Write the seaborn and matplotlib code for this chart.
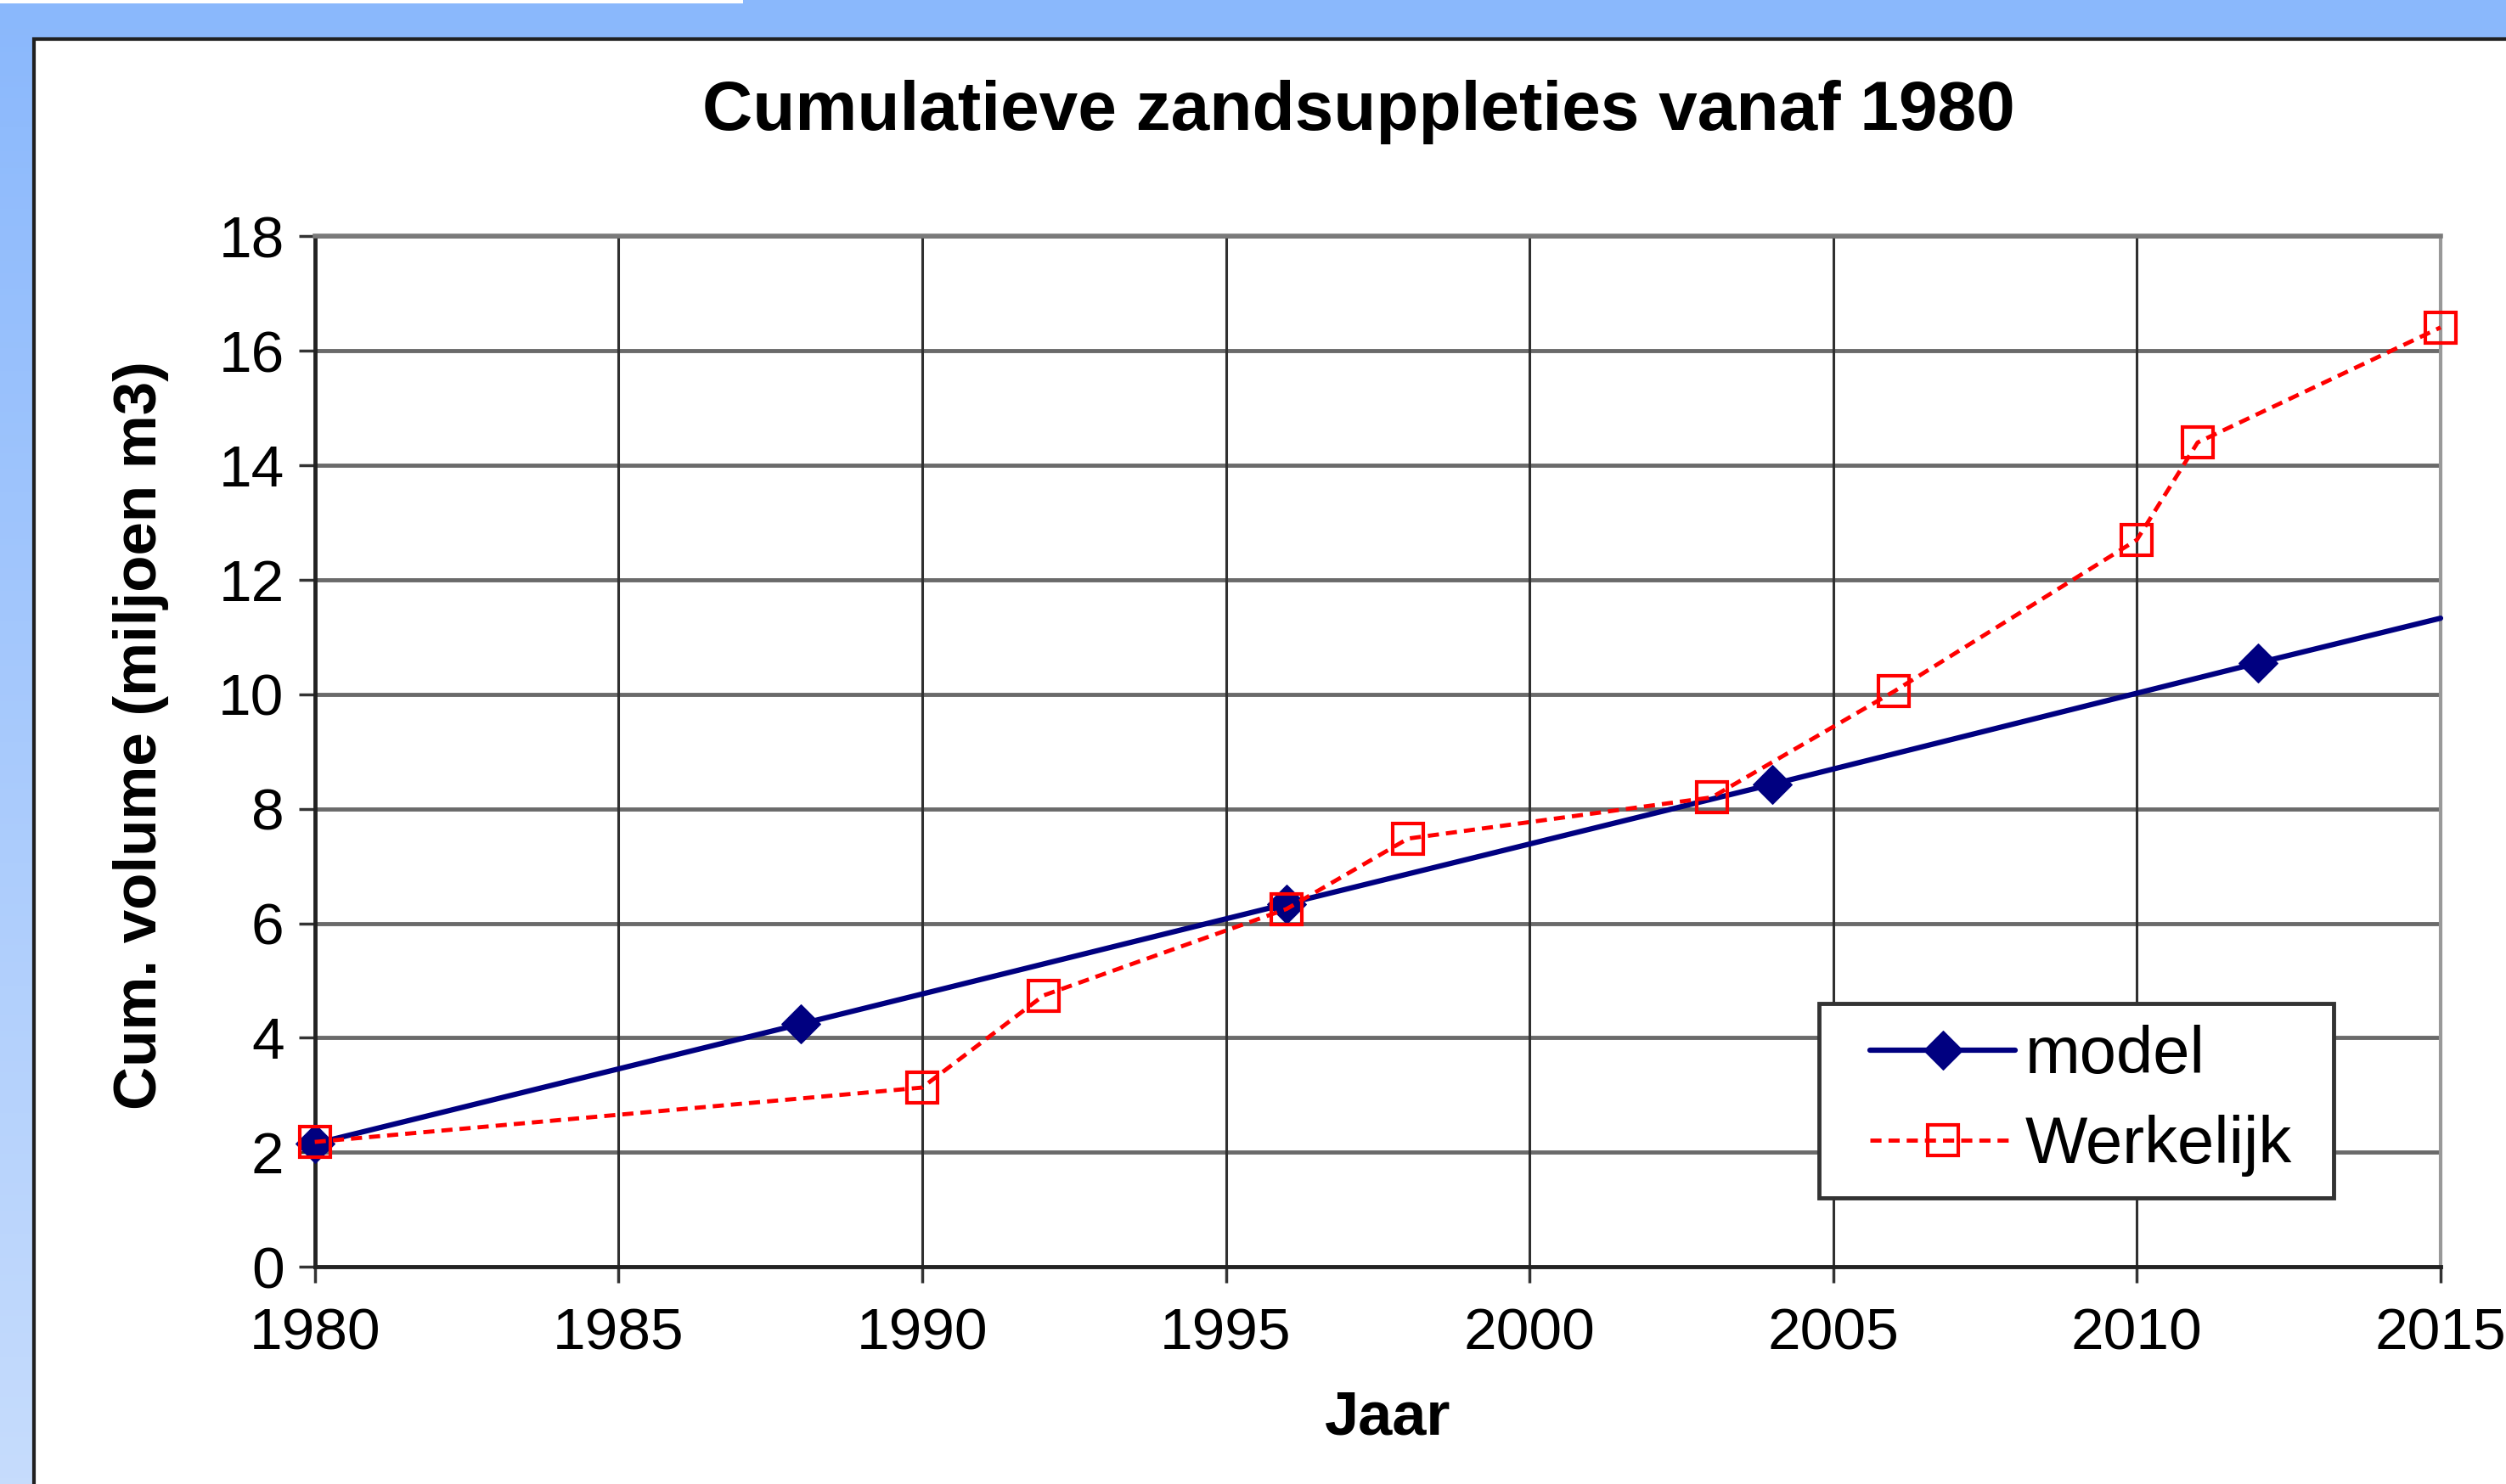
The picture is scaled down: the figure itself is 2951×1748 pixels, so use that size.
import matplotlib
matplotlib.use('Agg')
import matplotlib.pyplot as plt
import seaborn as sns
import numpy as np
import pandas as pd
from matplotlib.patches import Rectangle

# model series (last point has no marker)
model_years = [1980, 1988, 1996, 2004, 2012, 2015]
model_vals = [2.15, 4.24, 6.34, 8.43, 10.55, 11.33]

# actual nourishment volumes
werk_years = [1980, 1990, 1992, 1996, 1998, 2003, 2006, 2010, 2011, 2015]
werk_vals = [2.18, 3.13, 4.74, 6.25, 7.48, 8.2, 10.05, 12.7, 14.4, 16.41]

x_ticks = [1980, 1985, 1990, 1995, 2000, 2005, 2010, 2015]
y_ticks = [0, 2, 4, 6, 8, 10, 12, 14, 16, 18]

sns.set_style("white")
plt.rcParams['font.family'] = ['Liberation Sans', 'DejaVu Sans']
plt.rcParams['text.color'] = 'black'
plt.rcParams['xtick.color'] = 'black'
plt.rcParams['ytick.color'] = 'black'

fig = plt.figure(figsize=(29.51, 17.48), dpi=100)

# blue gradient background
bg = fig.add_axes([0, 0, 1, 1], zorder=-10)
grad = np.linspace(0, 1, 256).reshape(-1, 1)
top_c = np.array([138, 184, 252]) / 255
bot_c = np.array([198, 220, 252]) / 255
img = top_c[None, None, :] * (1 - grad[:, :, None]) + bot_c[None, None, :] * grad[:, :, None]
bg.imshow(img, aspect='auto', extent=[0, 1, 0, 1])
bg.set_xlim(0, 1)
bg.set_ylim(0, 1)
bg.axis('off')
# white panel
px, py = 40 / 2951, 1 - 46 / 1748
bg.add_patch(Rectangle((px, -0.01), 1.1, py + 0.01, facecolor='white',
                       edgecolor='#202020', linewidth=3))
bg.add_patch(Rectangle((0, 1 - 4 / 1748), 875 / 2951, 4 / 1748, facecolor='white',
                       edgecolor='none'))

ax = fig.add_axes([0.1256, 0.1464, 0.8483, 0.6943])
ax.set_facecolor('white')

df_model = pd.DataFrame({'Jaar': model_years, 'volume': model_vals})
df_werk = pd.DataFrame({'Jaar': werk_years, 'volume': werk_vals})

sns.lineplot(data=df_model, x='Jaar', y='volume', ax=ax, color='#000080',
             linewidth=4.5, marker='D', markersize=23, markevery=[0, 1, 2, 3, 4],
             markeredgecolor='#000080', label='model', zorder=4, clip_on=False)
sns.lineplot(data=df_werk, x='Jaar', y='volume', ax=ax, color='#ff0000',
             linewidth=3.5, linestyle=(0, (2.7, 1.7)), marker='s', markersize=26,
             markerfacecolor='none', markeredgecolor='#ff0000', markeredgewidth=3,
             label='Werkelijk', zorder=5, clip_on=False)

ax.set_xlim(1980, 2015)
ax.set_ylim(0, 18)
ax.set_xticks(x_ticks)
ax.set_yticks(y_ticks)
ax.set_xticklabels([str(t) for t in x_ticks], fontsize=50)
ax.set_yticklabels([str(t) for t in y_ticks], fontsize=50)
ax.tick_params(axis='both', direction='out', length=14, width=2.5, color='#333333',
               left=True, bottom=True)
ax.tick_params(axis='x', pad=20)
ax.tick_params(axis='y', pad=12)
ax.set_xlabel('')
ax.set_ylabel('')

for yv in y_ticks[1:]:
    ax.axhline(yv, color='#6a6a6a', linewidth=3.5, zorder=1)
for xv in x_ticks[1:-1]:
    ax.axvline(xv, color='#303030', linewidth=2.2, zorder=1)

for side in ['left', 'bottom']:
    ax.spines[side].set_color('#222222')
    ax.spines[side].set_linewidth(3.5)
ax.spines['top'].set_color('#7a7a7a')
ax.spines['top'].set_linewidth(4)
ax.spines['right'].set_color('#999999')
ax.spines['right'].set_linewidth(3)

# legend box drawn separately so the inner padding can match
box = Rectangle((0.7258, 0.1927), 0.9311 - 0.7258, 0.3240 - 0.1927,
                transform=fig.transFigure, facecolor='white', edgecolor='#333333',
                linewidth=3.5, zorder=6, clip_on=False)
ax.add_patch(box)
leg = ax.legend(loc='center left', bbox_to_anchor=(0.7462, 0.2583),
                bbox_transform=fig.transFigure, fontsize=56, frameon=False,
                handlelength=2.2, handletextpad=0.15, borderpad=0,
                labelspacing=0.42, borderaxespad=0)
leg.set_zorder(7)

fig.text(0.542, 0.9247, 'Cumulatieve zandsuppleties vanaf 1980', ha='center',
         va='center', fontsize=59, fontweight='bold')
fig.text(0.0561, 0.5048, 'Cum. volume (miljoen m3)', ha='center', va='center',
         rotation=90, fontsize=51, fontweight='bold')
fig.text(0.5536, 0.0441, 'Jaar', ha='center', va='center', fontsize=52,
         fontweight='bold')

fig.savefig('out.png', dpi=100)
